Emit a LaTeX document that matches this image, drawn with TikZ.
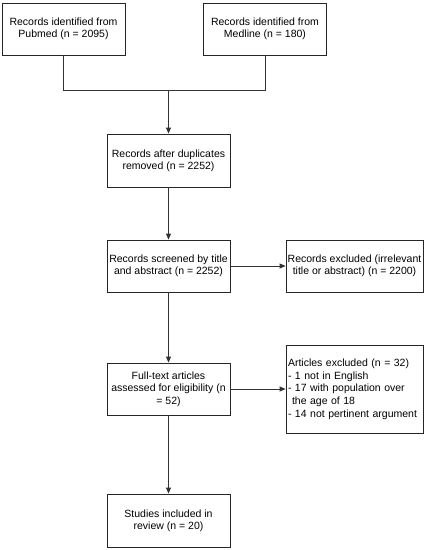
\documentclass[tikz,border=0pt]{standalone}
\usepackage{fontspec}
\setmainfont{Liberation Sans}
\usetikzlibrary{arrows.meta}
\begin{document}
\begin{tikzpicture}[x=1pt,y=-1pt,
  box/.style={draw=black!85, line width=0.8pt, minimum width=123pt, minimum height=52pt, align=center, inner xsep=0.5pt, inner ysep=1pt, font=\fontsize{10.5}{12.3}\selectfont},
  wbox/.style={box, minimum width=137pt},
  conn/.style={draw=black!80, line width=0.8pt},
  arr/.style={conn, -{Triangle[length=6pt,width=5pt]}}]
\useasboundingbox (0,0) rectangle (427,550);
\node[box] (b1) at (63.5,29) {Records identified from\\Pubmed (n = 2095)};
\node[box] (b2) at (265,29) {Records identified from\\Medline (n = 180)};
\node[box, minimum height=53pt] (b3) at (168.5,160.5) {Records after duplicates\\removed (n = 2252)};
\node[box] (b4) at (168.5,266) {Records screened by title\\and abstract (n = 2252)};
\node[wbox] (b5) at (354.5,266) {Records excluded (irrelevant\\title or abstract) (n = 2200)};
\node[wbox, minimum height=88pt, align=left, text width=133pt, inner xsep=2pt, font=\fontsize{10.5}{12.7}\selectfont] (b7) at (354.5,389) {Articles excluded (n = 32)\\- 1 not in English\\- 17 with population over\\\hspace{4pt}the age of 18\\- 14 not pertinent argument};
\node[box] (b6) at (168.5,389) {Full-text articles\\assessed for eligibility (n\\= 52)};
\node[box, minimum height=53pt] (b8) at (168.5,520.5) {Studies included in\\review (n = 20)};
\coordinate (j) at (168.5,90);
\draw[conn] (b1.south) -- (b1.south |- j) -- (b2.south |- j) -- (b2.south);
\draw[arr] (j) -- (b3.north);
\draw[arr] (b3.south) -- (b4.north);
\draw[arr] (b4.east) -- (b5.west);
\draw[arr] (b4.south) -- (b6.north);
\draw[arr] (b6.east) -- (b6.east -| b7.west);
\draw[arr] (b6.south) -- (b8.north);
\end{tikzpicture}
\end{document}
